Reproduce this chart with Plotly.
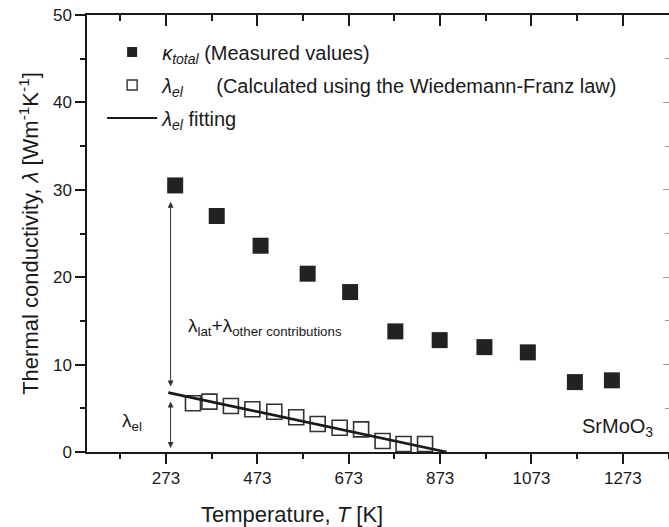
import plotly.graph_objects as go

# ---- data ----
T_total = [293, 384, 480, 583, 676, 775, 872, 970, 1065, 1168, 1249]
k_total = [30.5, 27.0, 23.6, 20.4, 18.3, 13.8, 12.8, 12.0, 11.4, 8.0, 8.2]

T_el = [332, 368, 415, 462, 510, 558, 605, 653, 700, 747, 793, 840]
l_el = [5.57, 5.76, 5.26, 4.89, 4.61, 3.97, 3.20, 2.78, 2.59, 1.26, 0.92, 0.92]

T_fit = [278, 887]
l_fit = [6.8, 0.0]

x_tick0, x_dtick = 273, 200
x_range = [100, 1374]
y_range = [0, 50]

FONT = "Liberation Sans, Arial, sans-serif"
INK = "#1a1a1a"

name_total = "<i>κ</i><sub><i>total</i></sub> (Measured values)"
name_el = "<i>λ</i><sub><i>el</i></sub>\u00a0\u00a0\u00a0\u00a0\u00a0\u00a0(Calculated using the Wiedemann-Franz law)"
name_fit = "<i>λ</i><sub><i>el</i></sub> fitting"

fig = go.Figure()

# data traces
fig.add_trace(go.Scatter(
    x=T_total, y=k_total, mode="markers", showlegend=False,
    marker=dict(symbol="square", size=16, color="#222222", line=dict(width=0)),
    name=name_total,
))
fig.add_trace(go.Scatter(
    x=T_el, y=l_el, mode="markers", showlegend=False,
    marker=dict(symbol="square-open", size=15, color="#333333", line=dict(width=1.6)),
    name=name_el,
))
fig.add_trace(go.Scatter(
    x=T_fit, y=l_fit, mode="lines", showlegend=False,
    line=dict(color="#1a1a1a", width=2.7),
    name=name_fit,
))
# legend entries (smaller symbols as in the reference)
fig.add_trace(go.Scatter(x=[None], y=[None], mode="markers", name=name_total, legendgroup="a",
                         marker=dict(symbol="square", size=10, color="#222222")))
fig.add_trace(go.Scatter(x=[None], y=[None], mode="markers", name=name_el, legendgroup="b",
                         marker=dict(symbol="square-open", size=10, color="#333333",
                                     line=dict(width=1.4))))
fig.add_trace(go.Scatter(x=[None], y=[None], mode="lines", name=name_fit, legendgroup="c",
                         line=dict(color="#1a1a1a", width=1.8)))
# dummy trace for the mirrored axes
fig.add_trace(go.Scatter(x=[], y=[], xaxis="x2", yaxis="y2", showlegend=False))

# double arrows
arrow_T = 283
for (y0, y1) in [(28.8, 7.5), (5.95, 0.45)]:
    fig.add_annotation(
        x=arrow_T, y=y1, ax=arrow_T, ay=y0, xref="x", yref="y", axref="x", ayref="y",
        text="", showarrow=True, arrowhead=2, arrowside="end+start",
        arrowsize=1.2, arrowwidth=1, arrowcolor="#333333",
    )

fig.add_annotation(x=490, y=14.3, xref="x", yref="y", showarrow=False,
                   text="λ<sub>lat</sub>+λ<sub>other contributions</sub>",
                   font=dict(family=FONT, size=19, color=INK))
fig.add_annotation(x=198, y=3.4, xref="x", yref="y", showarrow=False,
                   text="λ<sub>el</sub>",
                   font=dict(family=FONT, size=19, color=INK))
fig.add_annotation(x=1262, y=2.8, xref="x", yref="y", showarrow=False,
                   text="SrMoO<sub>3</sub>",
                   font=dict(family=FONT, size=20, color=INK))
fig.add_annotation(x=0.352, y=-0.142, xref="paper", yref="paper", showarrow=False,
                   yanchor="middle",
                   text="Temperature, <i>T</i> [K]",
                   font=dict(family=FONT, size=22, color=INK))

axis_common = dict(showgrid=False, zeroline=False, showline=True,
                   linecolor=INK, linewidth=1.5, tickcolor=INK, tickwidth=1.5)

fig.update_layout(
    width=669, height=527,
    margin=dict(l=87, r=0, t=15, b=75),
    plot_bgcolor="white", paper_bgcolor="white",
    font=dict(family=FONT, color=INK),
    xaxis=dict(range=x_range, tick0=x_tick0, dtick=x_dtick, ticks="outside", ticklen=10,
               tickfont=dict(size=17),
               minor=dict(tick0=73, dtick=100, ticks="outside", ticklen=5,
                          tickcolor=INK, tickwidth=1.5, showgrid=False),
               **axis_common),
    xaxis2=dict(range=x_range, overlaying="x", side="top", tick0=x_tick0, dtick=x_dtick,
                ticks="inside", ticklen=11, showticklabels=False,
                minor=dict(tick0=73, dtick=100, ticks="inside", ticklen=6,
                           tickcolor=INK, tickwidth=1.5, showgrid=False),
                **axis_common),
    yaxis=dict(range=y_range, dtick=10, ticks="outside", ticklen=10,
               tickfont=dict(size=17),
               minor=dict(dtick=5, ticks="outside", ticklen=5,
                          tickcolor=INK, tickwidth=1.5, showgrid=False),
               title=dict(text="Thermal conductivity, <i>λ</i> [Wm<sup>-1</sup>K<sup>-1</sup>]",
                          font=dict(size=22), standoff=8),
               **axis_common),
    yaxis2=dict(range=y_range, overlaying="y", side="right", dtick=10,
                ticks="inside", ticklen=6, showticklabels=False,
                minor=dict(dtick=5, ticks="inside", ticklen=4,
                           tickcolor="#999999", tickwidth=1, showgrid=False),
                showgrid=False, zeroline=False, showline=True,
                linecolor="#999999", linewidth=1, tickcolor="#999999", tickwidth=1),
    legend=dict(x=0.026, y=0.96, xanchor="left", yanchor="top",
                bgcolor="rgba(0,0,0,0)", font=dict(size=20, color=INK),
                itemwidth=50, tracegroupgap=4,
                traceorder="grouped"),
)

fig.write_html("out.html")
